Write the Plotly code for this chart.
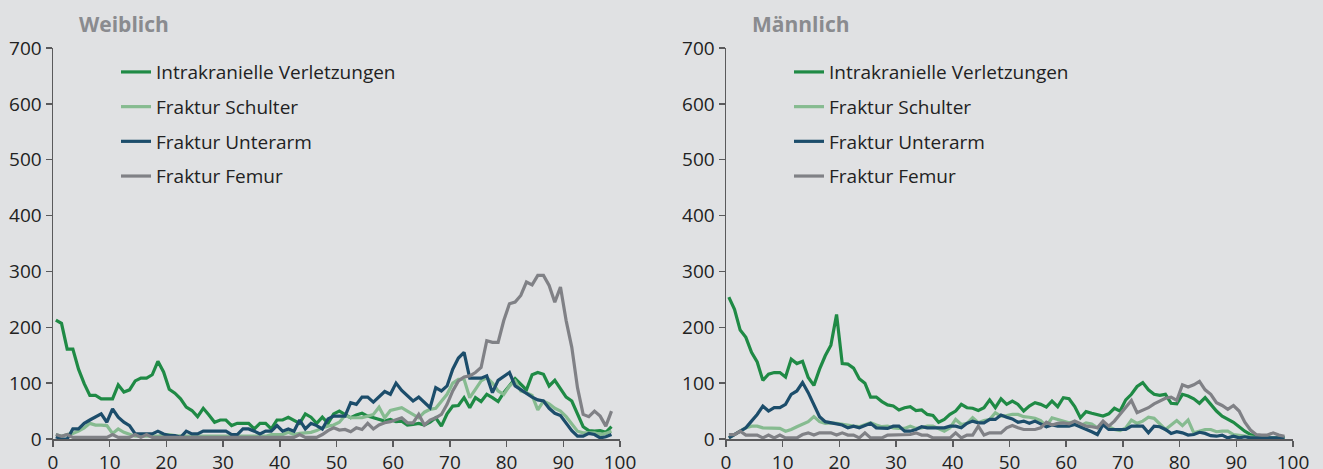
import plotly.graph_objects as go

ages = list(range(99))

# Weiblich (female)
f_intra = [213, 207, 161, 161, 125, 99, 78, 78, 72, 72, 72, 97, 84, 88, 104, 109, 109, 115, 139, 120,
           89, 82, 72, 57, 51, 40, 55, 43, 30, 34, 34, 24, 28, 28, 28, 18, 28, 28, 18, 34,
           34, 39, 34, 28, 45, 39, 28, 39, 28, 45, 50, 44, 38, 43, 46, 41, 38, 35, 32, 35,
           31, 32, 25, 26, 28, 25, 30, 38, 23, 45, 59, 60, 74, 56, 74, 67, 80, 74, 67, 83,
           95, 108, 98, 88, 115, 119, 116, 95, 105, 90, 75, 68, 45, 22, 15, 14, 15, 12, 22]
f_schulter = [8, 5, 8, 10, 14, 20, 28, 25, 25, 24, 10, 18, 12, 8, 5, 5, 5, 5, 5, 8,
              8, 6, 5, 5, 5, 5, 5, 5, 5, 5, 5, 5, 5, 5, 5, 5, 5, 5, 8, 8,
              8, 12, 8, 10, 11, 12, 15, 20, 23, 25, 30, 42, 38, 38, 38, 41, 44, 57, 38, 51,
              53, 56, 50, 44, 38, 48, 53, 55, 68, 80, 100, 107, 107, 74, 89, 104, 110, 100, 86, 80,
              95, 104, 86, 83, 78, 52, 68, 63, 55, 50, 40, 26, 14, 11, 11, 11, 8, 10, 14]
f_unterarm = [4, 0, 0, 18, 18, 28, 34, 40, 45, 30, 54, 39, 30, 24, 9, 9, 9, 9, 14, 9,
              6, 6, 3, 14, 9, 9, 14, 14, 14, 14, 14, 8, 8, 18, 18, 14, 9, 14, 14, 24,
              14, 18, 14, 34, 18, 28, 24, 18, 36, 41, 41, 41, 65, 62, 75, 75, 66, 75, 85, 80,
              100, 87, 78, 68, 75, 66, 56, 92, 86, 95, 125, 145, 155, 109, 109, 109, 113, 83, 105, 112,
              119, 95, 88, 82, 75, 70, 68, 55, 46, 42, 28, 15, 5, 5, 10, 8, 2, 4, 8]
f_femur = [8, 5, 8, 3, 3, 3, 3, 3, 3, 3, 8, 3, 3, 3, 8, 3, 8, 3, 3, 3,
           3, 3, 3, 3, 3, 3, 3, 3, 3, 3, 3, 3, 3, 3, 3, 3, 3, 3, 3, 3,
           3, 3, 3, 8, 3, 3, 3, 8, 15, 20, 16, 17, 13, 20, 17, 28, 18, 25, 29, 31,
           34, 38, 29, 29, 44, 25, 34, 38, 44, 62, 86, 104, 111, 113, 119, 128, 176, 173, 173, 212,
           242, 245, 257, 281, 276, 293, 293, 275, 245, 272, 212, 164, 92, 44, 40, 50, 41, 23, 50]

# Maennlich (male)
m_intra = [254, 232, 195, 182, 155, 138, 105, 116, 119, 119, 111, 143, 135, 139, 110, 96, 125, 149, 168, 223,
           135, 134, 127, 108, 100, 75, 75, 67, 61, 59, 52, 56, 58, 51, 52, 44, 42, 30, 35, 44,
           50, 62, 56, 55, 51, 56, 70, 56, 72, 62, 68, 62, 50, 59, 65, 62, 57, 68, 58, 74,
           72, 58, 38, 49, 46, 43, 41, 45, 55, 50, 70, 80, 94, 101, 88, 80, 78, 80, 64, 63,
           80, 77, 72, 64, 74, 62, 50, 41, 35, 30, 22, 14, 8, 5, 3, 2, 2, 2, 2]
m_schulter = [2, 8, 14, 20, 23, 23, 20, 20, 20, 19, 14, 17, 22, 26, 31, 40, 31, 28, 29, 28,
              26, 25, 23, 22, 26, 29, 25, 22, 23, 20, 19, 19, 23, 19, 20, 23, 23, 19, 14, 20,
              35, 26, 28, 38, 29, 33, 35, 47, 41, 42, 44, 44, 40, 39, 37, 33, 23, 38, 35, 32,
              29, 31, 24, 29, 27, 20, 29, 22, 17, 15, 20, 34, 28, 32, 39, 37, 26, 17, 25, 33,
              24, 34, 11, 14, 17, 17, 13, 14, 14, 8, 7, 5, 4, 2, 2, 2, 2, 2, 2]
m_unterarm = [2, 8, 14, 20, 32, 44, 59, 50, 56, 56, 62, 80, 86, 101, 83, 62, 40, 31, 29, 26,
              25, 20, 23, 20, 24, 28, 20, 20, 19, 23, 23, 14, 14, 17, 22, 20, 20, 20, 20, 23,
              23, 20, 28, 32, 29, 29, 35, 35, 43, 39, 36, 30, 32, 28, 32, 27, 22, 25, 23, 23,
              23, 26, 22, 17, 13, 8, 26, 17, 17, 17, 17, 23, 23, 23, 11, 23, 22, 17, 10, 13,
              11, 7, 8, 12, 10, 6, 5, 7, 2, 5, 2, 4, 2, 2, 2, 2, 2, 2, 2]
m_femur = [8, 8, 14, 7, 7, 7, 2, 7, 2, 7, 2, 2, 2, 8, 11, 7, 11, 11, 11, 7,
           11, 7, 7, 2, 11, 2, 2, 2, 7, 7, 7, 7, 8, 11, 7, 7, 2, 2, 2, 2,
           11, 2, 7, 7, 23, 7, 11, 11, 11, 20, 24, 20, 17, 17, 17, 20, 30, 25, 28, 29,
           27, 32, 28, 23, 22, 20, 32, 23, 32, 45, 58, 69, 47, 51, 56, 63, 68, 73, 75, 69,
           97, 93, 97, 103, 88, 80, 65, 60, 53, 60, 50, 30, 16, 8, 7, 7, 11, 7, 5]

series_names = ["Intrakranielle Verletzungen", "Fraktur Schulter", "Fraktur Unterarm", "Fraktur Femur"]
colors = ["#1f8a45", "#86bb90", "#1c4d6b", "#808186"]
panel_titles = ["Weiblich", "Männlich"]
x_ticks = list(range(0, 101, 10))
y_ticks = list(range(0, 701, 100))

female = [f_intra, f_schulter, f_unterarm, f_femur]
male = [m_intra, m_schulter, m_unterarm, m_femur]

xpos = [a + 0.5 for a in ages]

FONT = "Open Sans"
BG = "#e0e1e3"
AXC = "#5a5a5c"
TXT = "#222222"
FS = 19

fig = go.Figure()
for panel, (data, xa, ya, lg) in enumerate([(female, "x", "y", "legend"), (male, "x2", "y2", "legend2")]):
    for k, (name, vals) in enumerate(zip(series_names, data)):
        fig.add_trace(go.Scatter(
            x=xpos, y=vals, mode="lines", name=name,
            line=dict(color=colors[k], width=3.2),
            xaxis=xa, yaxis=ya, legend=lg, legendgroup=f"{panel}-{k}",
            hoverinfo="skip",
        ))

axis_common = dict(
    showgrid=False, zeroline=False, showline=True, linecolor=AXC, linewidth=1.5,
    ticks="outside", ticklen=6, tickwidth=1.5, tickcolor=AXC, automargin=False,
    tickfont=dict(family=FONT, size=FS, color=TXT),
)
xaxis_extra = dict(ticklabelstandoff=0)

legend_common = dict(
    y=0.987, xanchor="left", yanchor="top",
    bgcolor="rgba(0,0,0,0)", tracegroupgap=7, traceorder="grouped",
    font=dict(family=FONT, size=FS, color=TXT),
)

fig.update_layout(
    width=1323, height=469,
    margin=dict(l=53, r=30, t=48, b=30, autoexpand=False),
    paper_bgcolor=BG, plot_bgcolor=BG,
    font=dict(family=FONT, size=FS, color=TXT),
    xaxis=dict(domain=[0, 567 / 1240], range=[0, 100], tickvals=x_ticks, anchor="y",
               **axis_common, **xaxis_extra),
    yaxis=dict(domain=[0, 1], range=[0, 700], tickvals=y_ticks, anchor="x", **axis_common),
    xaxis2=dict(domain=[673 / 1240, 1], range=[0, 100], tickvals=x_ticks, anchor="y2",
                **axis_common, **xaxis_extra),
    yaxis2=dict(domain=[0, 1], range=[0, 700], tickvals=y_ticks, anchor="x2", **axis_common),
    legend=dict(x=(116 - 53) / 1240, **legend_common),
    legend2=dict(x=(789 - 53) / 1240, **legend_common),
    showlegend=True,
)

for title, xstart in zip(panel_titles, [77, 750]):
    fig.add_annotation(
        text=f"<b>{title}</b>", xref="paper", yref="paper",
        x=(xstart - 53) / 1240, y=(439 - 24) / 391, xanchor="left", yanchor="middle",
        showarrow=False, font=dict(family=FONT, size=21, color="#8a8b8f"),
    )

fig.write_html(
    "out.html",
    config={"displayModeBar": False, "staticPlot": True},
    post_script="document.body.style.margin='0';document.body.style.overflow='hidden';",
)
